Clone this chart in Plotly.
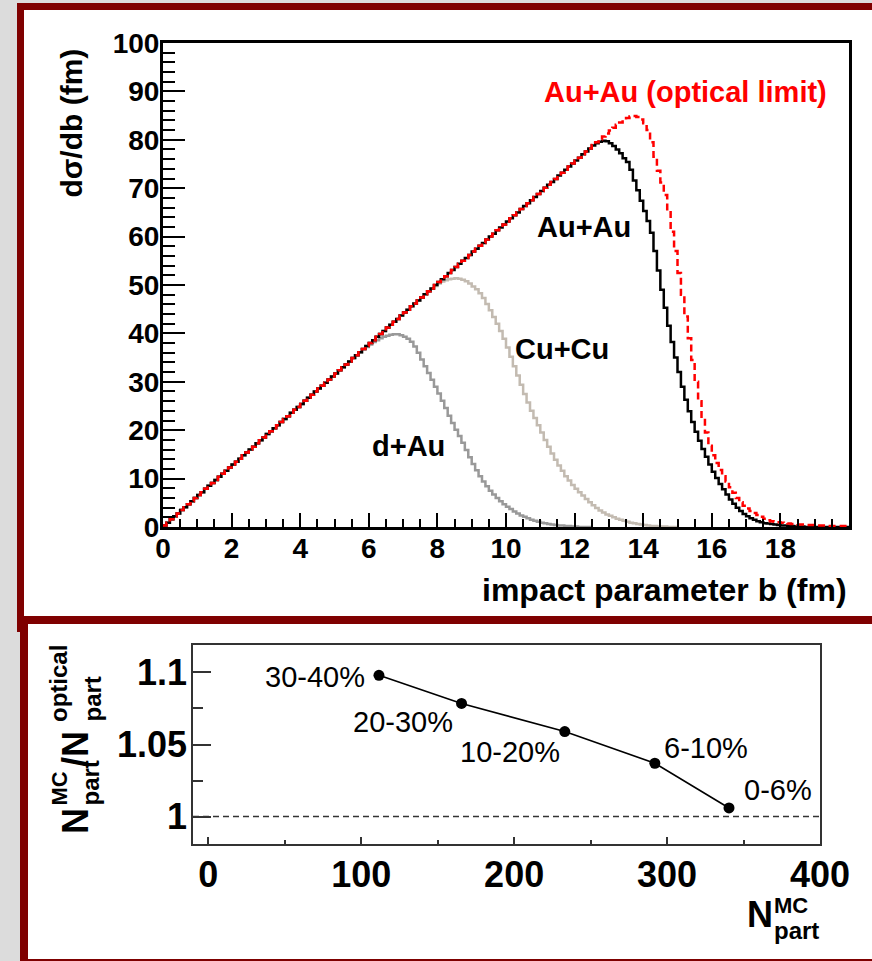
import numpy as np
import plotly.graph_objects as go

W, H = 872, 961
FONT = "Liberation Sans, Arial, sans-serif"
BIN_WIDTH = 0.1  # fm, histogram bin width in impact parameter

# d(sigma)/db in fm, one value per 0.1 fm bin starting at b = 0
dsig_dau = [
    0.3, 0.9, 1.6, 2.2, 2.8, 3.5, 4.1, 4.7, 5.3, 6.0,
    6.6, 7.2, 7.9, 8.5, 9.1, 9.7, 10.4, 11.0, 11.6, 12.3,
    12.9, 13.5, 14.1, 14.8, 15.4, 16.0, 16.6, 17.3, 17.9, 18.5,
    19.2, 19.8, 20.4, 21.0, 21.7, 22.3, 22.9, 23.6, 24.2, 24.8,
    25.4, 26.1, 26.7, 27.3, 28.0, 28.6, 29.2, 29.8, 30.5, 31.1,
    31.7, 32.4, 33.0, 33.6, 34.2, 34.9, 35.5, 36.1, 36.7, 37.2,
    37.7, 38.2, 38.6, 39.0, 39.3, 39.5, 39.7, 39.8, 39.8, 39.6,
    39.3, 38.9, 38.3, 37.3, 36.0, 34.6, 33.2, 31.8, 30.4, 29.0,
    27.6, 26.1, 24.6, 23.0, 21.5, 20.1, 18.8, 17.4, 15.9, 14.4,
    13.0, 11.7, 10.5, 9.4, 8.4, 7.5, 6.7, 6.0, 5.3, 4.7,
    4.2, 3.7, 3.2, 2.8, 2.4, 2.1, 1.8, 1.5, 1.3, 1.1,
    0.9, 0.8, 0.6, 0.5, 0.4, 0.3, 0.3, 0.2, 0.2, 0.1,
    0.1, 0.0, 0.0, 0.0, 0.0,
]

dsig_cucu = [
    0.3, 0.9, 1.6, 2.2, 2.8, 3.5, 4.1, 4.7, 5.3, 6.0,
    6.6, 7.2, 7.9, 8.5, 9.1, 9.7, 10.4, 11.0, 11.6, 12.3,
    12.9, 13.5, 14.1, 14.8, 15.4, 16.0, 16.6, 17.3, 17.9, 18.5,
    19.2, 19.8, 20.4, 21.0, 21.7, 22.3, 22.9, 23.6, 24.2, 24.8,
    25.4, 26.1, 26.7, 27.3, 28.0, 28.6, 29.2, 29.8, 30.5, 31.1,
    31.7, 32.4, 33.0, 33.6, 34.2, 34.9, 35.5, 36.1, 36.8, 37.4,
    38.0, 38.6, 39.3, 39.9, 40.5, 41.2, 41.8, 42.4, 43.0, 43.7,
    44.3, 44.9, 45.6, 46.2, 46.8, 47.4, 48.1, 48.7, 49.3, 49.8,
    50.3, 50.7, 51.0, 51.2, 51.3, 51.4, 51.3, 51.1, 50.8, 50.3,
    49.7, 49.1, 48.3, 47.3, 46.1, 44.8, 43.4, 42.0, 40.5, 38.9,
    37.1, 35.2, 33.2, 31.3, 29.4, 27.5, 25.7, 24.0, 22.5, 21.0,
    19.5, 18.0, 16.6, 15.2, 13.9, 12.7, 11.6, 10.5, 9.6, 8.7,
    7.9, 7.2, 6.5, 5.8, 5.1, 4.5, 3.9, 3.4, 3.0, 2.6,
    2.3, 2.0, 1.7, 1.5, 1.3, 1.1, 0.9, 0.8, 0.6, 0.5,
    0.4, 0.3, 0.2, 0.2, 0.1, 0.1, 0.1, 0.0, 0.0, 0.0,
]

dsig_auau = [
    0.3, 0.9, 1.6, 2.2, 2.8, 3.5, 4.1, 4.7, 5.3, 6.0,
    6.6, 7.2, 7.9, 8.5, 9.1, 9.7, 10.4, 11.0, 11.6, 12.3,
    12.9, 13.5, 14.1, 14.8, 15.4, 16.0, 16.6, 17.3, 17.9, 18.5,
    19.2, 19.8, 20.4, 21.0, 21.7, 22.3, 22.9, 23.6, 24.2, 24.8,
    25.4, 26.1, 26.7, 27.3, 28.0, 28.6, 29.2, 29.8, 30.5, 31.1,
    31.7, 32.4, 33.0, 33.6, 34.2, 34.9, 35.5, 36.1, 36.8, 37.4,
    38.0, 38.6, 39.3, 39.9, 40.5, 41.2, 41.8, 42.4, 43.0, 43.7,
    44.3, 44.9, 45.6, 46.2, 46.8, 47.4, 48.1, 48.7, 49.3, 50.0,
    50.6, 51.2, 51.8, 52.5, 53.1, 53.7, 54.4, 55.0, 55.6, 56.2,
    56.9, 57.5, 58.1, 58.7, 59.4, 60.0, 60.6, 61.3, 61.9, 62.5,
    63.1, 63.8, 64.4, 65.0, 65.7, 66.3, 66.9, 67.5, 68.2, 68.8,
    69.4, 70.1, 70.7, 71.3, 71.9, 72.6, 73.2, 73.8, 74.5, 75.1,
    75.7, 76.3, 77.0, 77.6, 78.2, 78.8, 79.3, 79.6, 79.8, 79.7,
    79.3, 78.7, 78.0, 77.2, 76.2, 75.4, 73.8, 71.6, 69.6, 67.4,
    65.3, 63.2, 60.8, 57.0, 53.0, 49.0, 45.3, 41.6, 38.2, 35.0,
    32.0, 29.0, 26.3, 23.9, 21.7, 19.7, 17.8, 16.1, 14.5, 12.9,
    11.4, 10.1, 8.9, 7.8, 6.7, 5.7, 4.8, 4.0, 3.3, 2.7,
    2.2, 1.8, 1.5, 1.2, 1.0, 0.8, 0.7, 0.6, 0.5, 0.4,
    0.3, 0.3, 0.2, 0.2, 0.1, 0.1, 0.1, 0.0, 0.0, 0.0,
    0.0, 0.0, 0.0, 0.0, 0.0, 0.0, 0.0, 0.0, 0.0, 0.0,
]

dsig_auau_optical = [
    0.3, 0.9, 1.6, 2.2, 2.8, 3.5, 4.1, 4.7, 5.3, 6.0,
    6.6, 7.2, 7.9, 8.5, 9.1, 9.7, 10.4, 11.0, 11.6, 12.3,
    12.9, 13.5, 14.1, 14.8, 15.4, 16.0, 16.6, 17.3, 17.9, 18.5,
    19.2, 19.8, 20.4, 21.0, 21.7, 22.3, 22.9, 23.6, 24.2, 24.8,
    25.4, 26.1, 26.7, 27.3, 28.0, 28.6, 29.2, 29.8, 30.5, 31.1,
    31.7, 32.4, 33.0, 33.6, 34.2, 34.9, 35.5, 36.1, 36.8, 37.4,
    38.0, 38.6, 39.3, 39.9, 40.5, 41.2, 41.8, 42.4, 43.0, 43.7,
    44.3, 44.9, 45.6, 46.2, 46.8, 47.4, 48.1, 48.7, 49.3, 50.0,
    50.6, 51.2, 51.8, 52.5, 53.1, 53.7, 54.4, 55.0, 55.6, 56.2,
    56.9, 57.5, 58.1, 58.7, 59.4, 60.0, 60.6, 61.3, 61.9, 62.5,
    63.1, 63.8, 64.4, 65.0, 65.7, 66.3, 66.9, 67.5, 68.2, 68.8,
    69.4, 70.1, 70.7, 71.3, 71.9, 72.6, 73.2, 73.8, 74.5, 75.1,
    75.7, 76.3, 77.0, 77.6, 78.2, 78.9, 79.5, 80.1, 80.7, 81.3,
    81.9, 82.5, 83.1, 83.6, 84.1, 84.5, 84.8, 84.9, 84.7, 84.2,
    83.4, 82.0, 79.5, 76.5, 73.6, 71.2, 68.6, 65.4, 61.0, 57.0,
    52.5, 48.0, 43.5, 39.0, 34.5, 30.0, 26.0, 22.5, 19.5, 16.8,
    14.8, 13.2, 11.8, 10.5, 9.4, 8.2, 7.1, 6.0, 5.1, 4.4,
    3.8, 3.3, 2.9, 2.5, 2.1, 1.7, 1.4, 1.2, 1.1, 1.0,
    0.9, 0.8, 0.7, 0.6, 0.6, 0.5, 0.5, 0.4, 0.4, 0.4,
    0.3, 0.3, 0.3, 0.3, 0.2, 0.2, 0.2, 0.2, 0.2, 0.2,
]

# centrality classes: MC participants and MC / optical participant ratio
centrality = ["30-40%", "20-30%", "10-20%", "6-10%", "0-6%"]
npart_mc = [111.6, 165.6, 233.1, 292.0, 340.5]
npart_ratio = [1.098, 1.0785, 1.059, 1.037, 1.006]

top_x_ticks = [0, 2, 4, 6, 8, 10, 12, 14, 16, 18]
top_y_ticks = [0, 10, 20, 30, 40, 50, 60, 70, 80, 90, 100]
bot_x_ticks = [0, 100, 200, 300, 400]
bot_y_ticks = [1.0, 1.05, 1.1]
bot_y_labels = ["1", "1.05", "1.1"]


def px(x):
    return x / W


def py(y):
    return 1 - y / H


def step(values):
    edges = BIN_WIDTH * np.arange(len(values) + 1)
    return edges, list(values) + [values[-1]]


fig = go.Figure()

series = [
    (dsig_dau, "d+Au", dict(color="#999999", width=2.5)),
    (dsig_cucu, "Cu+Cu", dict(color="#c3bbb1", width=2.5)),
    (dsig_auau, "Au+Au", dict(color="black", width=2.5)),
    (dsig_auau_optical, "Au+Au (optical limit)",
     dict(color="#ff0000", width=2.5, dash="7px,4px")),
]
for vals, name, line in series:
    xs, ys = step(vals)
    fig.add_trace(go.Scatter(x=xs, y=ys, mode="lines", name=name,
                             line=dict(shape="hv", **line),
                             xaxis="x", yaxis="y", showlegend=False))

fig.add_trace(go.Scatter(
    x=npart_mc, y=npart_ratio, mode="lines+markers",
    line=dict(color="black", width=1.6),
    marker=dict(color="black", size=11),
    xaxis="x2", yaxis="y2", showlegend=False))

# panels: grey page, white boxes with dark red frames
DARK_RED = "#7f0000"
shapes = [
    dict(type="rect", xref="paper", yref="paper", x0=px(17), x1=px(900),
         y0=py(3), y1=py(632), fillcolor=DARK_RED, line_width=0, layer="below"),
    dict(type="rect", xref="paper", yref="paper", x0=px(20), x1=px(900),
         y0=py(616), y1=py(980), fillcolor=DARK_RED, line_width=0, layer="below"),
    dict(type="rect", xref="paper", yref="paper", x0=px(24), x1=px(900),
         y0=py(10), y1=py(616), fillcolor="white", line_width=0, layer="below"),
    dict(type="rect", xref="paper", yref="paper", x0=px(28), x1=px(900),
         y0=py(624), y1=py(959), fillcolor="white", line_width=0, layer="below"),
    dict(type="line", xref="x2 domain", yref="y2", x0=0, x1=1, y0=1.0, y1=1.0,
         line=dict(color="#333333", width=1.5, dash="6px,4px")),
]

annotations = []


def note(text, x, y, size, xref="paper", yref="paper", color="black",
         weight="bold", **kw):
    annotations.append(dict(text=text, x=x, y=y, xref=xref, yref=yref,
                            showarrow=False,
                            font=dict(family=FONT, size=size, color=color,
                                      weight=weight), **kw))


# top panel labels (data coordinates)
note("Au+Au (optical limit)", 11.06, 89.9, 29, "x", "y", color="#ff0000",
     xanchor="left", yanchor="middle")
note("Au+Au", 10.85, 62.0, 29, "x", "y", xanchor="left", yanchor="middle")
note("Cu+Cu", 10.21, 36.8, 29, "x", "y", xanchor="left", yanchor="middle")
note("d+Au", 6.04, 16.7, 29, "x", "y", xanchor="left", yanchor="middle")

# top panel axis titles
note("dσ/db (fm)", px(71), py(47), 30, textangle=-90,
     xanchor="center", yanchor="top")
note("impact parameter b (fm)", px(849), py(590), 32,
     xanchor="right", yanchor="middle")

# bottom panel centrality labels, offset from their points in pixels
label_offsets = {
    "30-40%": ("right", -12, -2),
    "20-30%": ("right", -7, -19),
    "10-20%": ("right", -3, -20),
    "6-10%": ("left", 7, 15),
    "0-6%": ("left", 13, 18),
}
for name, xv, yv in zip(centrality, npart_mc, npart_ratio):
    anchor, dx, dy = label_offsets[name]
    note(name, xv, yv, 29, "x2", "y2", weight="normal",
         xanchor=anchor, yanchor="middle", xshift=dx, yshift=dy)

# bottom panel y title: N^MC_part / N^optical_part, reading upwards
note("N", px(75), py(836), 36, textangle=-90, xanchor="center", yanchor="bottom")
note("MC", px(58.5), py(808), 22, textangle=-90, xanchor="center", yanchor="bottom")
note("part", px(90), py(808), 24, textangle=-90, xanchor="center", yanchor="bottom")
note("/N", px(75), py(769), 36, textangle=-90, xanchor="center", yanchor="bottom")
note("optical", px(58.5), py(724), 24, textangle=-90, xanchor="center", yanchor="bottom")
note("part", px(92), py(724), 24, textangle=-90, xanchor="center", yanchor="bottom")

# bottom panel x title: N^MC_part
note("N", px(745), py(914), 36, xanchor="left", yanchor="middle")
note("MC", px(772), py(905), 22, xanchor="left", yanchor="middle")
note("part", px(772), py(930), 24, xanchor="left", yanchor="middle")

top_axis_common = dict(showgrid=False, zeroline=False, showline=True,
                       automargin=False,
                       linecolor="black", linewidth=3, mirror=True,
                       ticks="inside", tickcolor="black", tickwidth=2,
                       tickfont=dict(family=FONT, size=28, color="black",
                                     weight="bold"))
bot_axis_common = dict(showgrid=False, zeroline=False, showline=True,
                       automargin=False,
                       linecolor="#333333", linewidth=1.5, mirror=True,
                       ticks="inside", tickcolor="#333333", tickwidth=1.5,
                       tickfont=dict(family=FONT, size=36, color="black",
                                     weight="bold"))

fig.update_layout(
    width=W, height=H, autosize=False,
    margin=dict(l=0, r=0, t=0, b=0, pad=0),
    paper_bgcolor="#dcdcdc", plot_bgcolor="rgba(0,0,0,0)",
    xaxis=dict(domain=[px(163), px(849)], anchor="y", range=[0, 20],
               tickmode="array", tickvals=top_x_ticks, ticklen=14,
               minor=dict(dtick=0.5, tick0=0, ticklen=8, tickwidth=2,
                          tickcolor="black", ticks="inside"),
               ticklabelstandoff=-6, **top_axis_common),
    yaxis=dict(domain=[py(527), py(43)], anchor="x", range=[0, 100],
               tickmode="array", tickvals=top_y_ticks, ticklen=22,
               minor=dict(dtick=2, tick0=0, ticklen=12, tickwidth=2,
                          tickcolor="black", ticks="inside"),
               ticklabelstandoff=-5, **top_axis_common),
    xaxis2=dict(domain=[px(193), px(820)], anchor="y2", range=[-10, 400],
                tickmode="array", tickvals=bot_x_ticks, ticklen=7,
                minor=dict(dtick=50, tick0=0, ticklen=4, tickwidth=1.5,
                           tickcolor="#333333", ticks="inside"),
                ticklabelstandoff=-2, **bot_axis_common),
    yaxis2=dict(domain=[py(844), py(645)], anchor="x2", range=[0.981, 1.119],
                tickmode="array", tickvals=bot_y_ticks, ticktext=bot_y_labels,
                ticklen=18,
                minor=dict(dtick=0.025, tick0=1.0, ticklen=10, tickwidth=1.5,
                           tickcolor="#333333", ticks="inside"),
                ticklabelstandoff=-3, **bot_axis_common),
    shapes=shapes,
    annotations=annotations,
)

fig.write_html("out.html", config={"displayModeBar": False})
